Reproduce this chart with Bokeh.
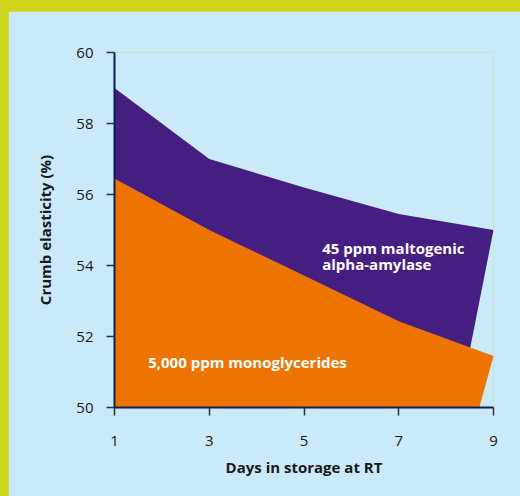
import re
from bokeh.plotting import figure
from bokeh.models import Range1d, FixedTicker, ColumnDataSource
from bokeh.embed import file_html
from bokeh.resources import INLINE
from bokeh.core.properties import value

# ---- data ----
days = [1, 3, 5, 7, 9]
amylase = [59.0, 57.0, 56.2, 55.45, 55.0]          # 45 ppm maltogenic alpha-amylase
monoglycerides = [56.45, 55.0, 53.72, 52.43, 51.45]  # 5,000 ppm monoglycerides
amylase_end_day = 8.26   # slanted right edge meets baseline
mono_end_day = 8.70
baseline = 50
x_ticks = [1, 3, 5, 7, 9]
y_ticks = [50, 52, 54, 56, 58, 60]
label_amylase = ["45 ppm maltogenic", "alpha-amylase"]
label_mono = ["5,000 ppm monoglycerides"]

# ---- style ----
BG = "#CAE9F9"
FRAME = "#CED51A"
PURPLE = "#451E82"
ORANGE = "#EE7400"
NAVY = "#0A1E5A"
FONT = "Open Sans"

p = figure(width=512, height=485, x_range=Range1d(1, 9), y_range=Range1d(50, 60),
           output_backend="svg", toolbar_location=None,
           min_border_left=106, min_border_right=27, min_border_top=41, min_border_bottom=89)
p.background_fill_color = BG
p.border_fill_color = BG
p.outline_line_color = None
p.xgrid.visible = False
p.ygrid.visible = False

def area(xs_days, vals, end_day):
    xs = [xs_days[0]] + list(xs_days) + [end_day]
    ys = [baseline] + list(vals) + [baseline]
    return xs, ys

ax, ay = area(days, amylase, amylase_end_day)
p.patch(ax, ay, fill_color=PURPLE, line_color=None)
mx, my = area(days, monoglycerides, mono_end_day)
p.patch(mx, my, fill_color=ORANGE, line_color=None)

txt = ColumnDataSource(dict(x=[5.384, 5.384, 1.711], y=[54.49, 54.03, 51.27],
                            t=label_amylase + label_mono))
p.text(x="x", y="y", text="t", source=txt, text_color="white", text_font=value(FONT),
       text_font_style="bold", text_font_size="15px", text_align="left", text_baseline="middle")

for ax_ in (p.xaxis[0], p.yaxis[0]):
    ax_.axis_line_color = NAVY
    ax_.axis_line_width = 2
    ax_.major_tick_line_color = "#333333"
    ax_.major_tick_line_width = 1.5
    ax_.major_tick_in = 0
    ax_.major_tick_out = 8
    ax_.minor_tick_line_color = None
    ax_.major_label_text_font = FONT
    ax_.major_label_text_font_size = "15px"
    ax_.major_label_text_color = "#1a1a1a"
    ax_.axis_label_text_font = FONT
    ax_.axis_label_text_font_style = "bold"
    ax_.axis_label_text_font_size = "15px"
    ax_.axis_label_text_color = "#1a1a1a"

p.xaxis.ticker = FixedTicker(ticks=x_ticks)
p.yaxis.ticker = FixedTicker(ticks=y_ticks)
p.xaxis.axis_label = "Days in storage at RT"
p.yaxis.axis_label = "Crumb elasticity (%)"
p.xaxis.major_label_standoff = 20
p.yaxis.major_label_standoff = 13
p.xaxis.axis_label_standoff = 8
p.yaxis.axis_label_standoff = 18

html = file_html(p, INLINE)
style = ("<style>html, body { margin:0 !important; padding:0 !important; overflow:hidden; "
         "background-color:%s !important; } body { padding:11px 0 0 8px !important; "
         "box-sizing:border-box; }</style>" % FRAME)
html = re.sub(r"</head>", style + "</head>", html, count=1, flags=re.I)
open("out.html", "w").write(html)
